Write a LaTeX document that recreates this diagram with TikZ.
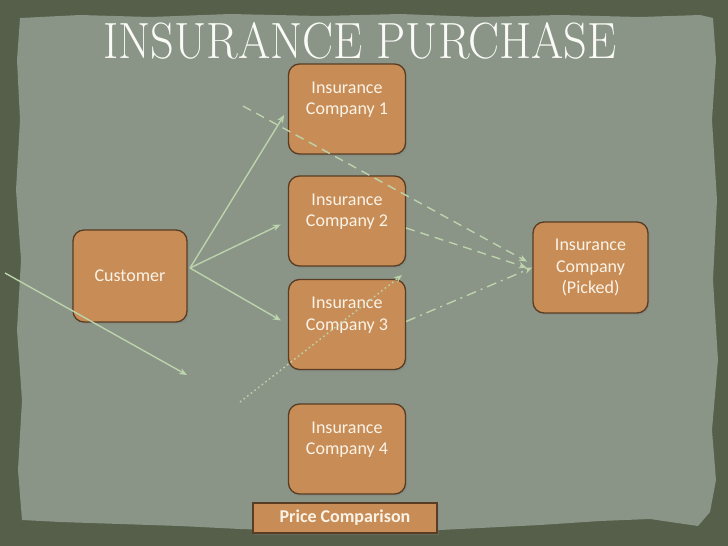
\documentclass[tikz,border=0pt]{standalone}
\usepackage{fontspec}
\newfontfamily\boxfont{Carlito}
\usetikzlibrary{arrows.meta,shadows}
\definecolor{framec}{RGB}{86,95,74}
\definecolor{panelc}{RGB}{138,148,135}
\definecolor{boxfill}{RGB}{200,141,86}
\definecolor{boxline}{RGB}{88,60,35}
\definecolor{boxtext}{RGB}{250,243,232}
\definecolor{arrowc}{RGB}{188,212,172}
\definecolor{titlec}{RGB}{250,250,246}
\begin{document}
\begin{tikzpicture}[x=1pt,y=-1pt,
  cbox/.style={draw=boxline, line width=1.3pt, fill=boxfill, rounded corners=11pt,
    minimum width=117pt, minimum height=90pt, inner sep=0pt, align=center,
    font=\boxfont\fontsize{18}{21.6}\selectfont, text=boxtext,
    drop shadow={opacity=0.35, shadow xshift=1.5pt, shadow yshift=-2pt}},
  pbox/.style={draw=boxline, line width=1.3pt, fill=boxfill,
    minimum width=184pt, minimum height=30pt, inner sep=0pt,
    font=\boxfont\bfseries\fontsize{18}{21.6}\selectfont, text=boxtext,
    drop shadow={opacity=0.35, shadow xshift=1.5pt, shadow yshift=-2pt}},
  link/.style={draw=arrowc, line width=1.4pt, -{Stealth[length=8pt,width=6.5pt]}},
  dlink/.style={link, dash pattern=on 9pt off 6pt},
  ddlink/.style={link, dash pattern=on 10pt off 5pt on 2pt off 5pt},
  tlink/.style={link, dash pattern=on 1.6pt off 3pt},
  titlestyle/.style={text=titlec, inner sep=0pt, anchor=base, font=\fontsize{51}{51}\selectfont}]
\useasboundingbox (0,0) rectangle (728,546);
% background frame and torn panel
\fill[framec] (0,0) rectangle (728,546);
\fill[panelc] (20,18) -- (80,15) -- (150,17) -- (230,14) -- (320,16) -- (400,14) -- (480,17)
  -- (560,15) -- (640,17) -- (700,15) -- (713,18) -- (716,60) -- (712,120) -- (717,200)
  -- (713,280) -- (718,360) -- (712,430) -- (716,480) -- (710,512) -- (698,526)
  -- (650,519) -- (600,521) -- (540,525) -- (480,528) -- (420,531) -- (360,530)
  -- (300,531) -- (240,529) -- (180,526) -- (120,524) -- (60,522) -- (22,520)
  -- (18,470) -- (22,400) -- (17,330) -- (21,260) -- (16,190) -- (20,120) -- (17,60) -- cycle;
% title
\node[titlestyle] (title) at (360,58) {\scalebox{0.91}[1]{INSURANCE PURCHASE}};
% boxes
\node[cbox, minimum width=114pt, minimum height=92pt] (cust) at (130,276) {Customer};
\node[cbox] (c1) at (347,109) {Insurance\\Company 1\\\mbox{}};
\node[cbox] (c2) at (347,221) {Insurance\\Company 2\\\mbox{}};
\node[cbox] (c3) at (347,324.5) {Insurance\\Company 3\\\mbox{}};
\node[cbox] (c4) at (347,449) {Insurance\\Company 4\\\mbox{}};
\node[cbox, minimum width=115pt, minimum height=91pt] (pk) at (590.5,267.5) {Insurance\\Company\\(Picked)};
\node[pbox] (pc) at (345,518) {Price Comparison};
% connectors
\coordinate (hub) at (190,268);
\coordinate (lstart) at (5,273);
\coordinate (lend) at (187,375);
\coordinate (d1) at (243,106);
\coordinate (dt) at (240,402);
\coordinate (dtend) at (402,275);
\draw[link, shorten >=7pt] (hub) -- (c1.west);
\draw[link, shorten >=8pt] (hub) -- (c2.west);
\draw[link, shorten >=8pt] (hub) -- (c3.west);
\draw[link] (lstart) -- (lend);
\draw[tlink] (dt) -- (dtend);
\draw[dlink, shorten >=6pt] (d1) -- ([yshift=3pt]pk.west);
\draw[dlink, shorten >=6pt] ([yshift=-7pt]c2.east) -- ([yshift=-2pt]pk.west);
\draw[ddlink] ([yshift=3pt]c3.east) -- (pk.west);
\end{tikzpicture}
\end{document}
